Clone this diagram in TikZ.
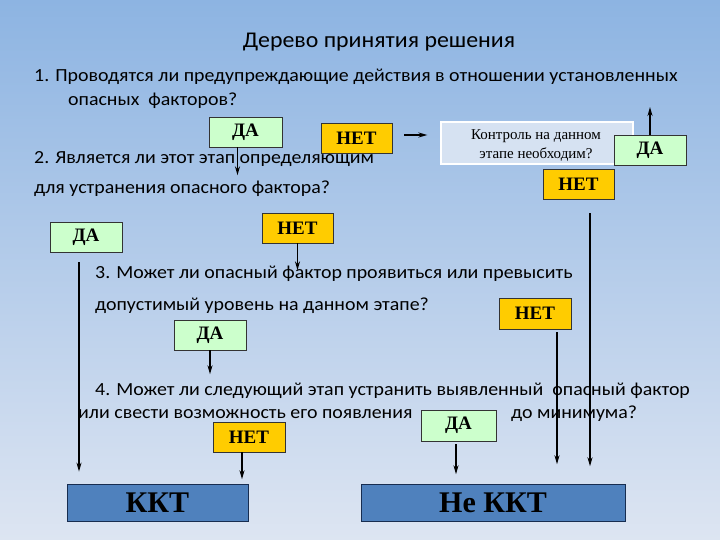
\documentclass[tikz,border=0pt]{standalone}
\usepackage{fontspec}
\setmainfont{Carlito}[FakeStretch=1.075]
\newfontfamily\ttlfont{Carlito}[FakeStretch=1.06]
\newfontfamily\tnr{Liberation Serif}
\usetikzlibrary{arrows.meta,calc}
\definecolor{bgtop}{RGB}{141,180,226}
\definecolor{bgbot}{RGB}{221,229,242}
\definecolor{dagreen}{RGB}{204,255,204}
\definecolor{netor}{RGB}{255,204,0}
\definecolor{kktblue}{RGB}{79,129,189}
\definecolor{kktline}{RGB}{23,45,80}
\definecolor{ctrlfill}{RGB}{214,226,242}
\tikzset{
  txt/.style={anchor=mid west, inner sep=0pt, font=\fontsize{18.5}{22}\selectfont},
  ttl/.style={anchor=mid, inner sep=0pt, font=\ttlfont\fontsize{22.5}{26}\selectfont},
  yesbox/.style={draw=black!80, line width=0.6pt, fill=dagreen, inner sep=0pt,
    font=\tnr\bfseries\fontsize{19}{21}\selectfont},
  nobox/.style={draw=black!80, line width=0.6pt, fill=netor, inner sep=0pt,
    font=\tnr\bfseries\fontsize{19}{21}\selectfont},
  endbox/.style={draw=kktline, line width=0.8pt, fill=kktblue, inner sep=0pt,
    font=\tnr\bfseries\fontsize{30}{32}\selectfont},
  arr/.style={line width=1.6pt, -{Stealth[length=9pt,width=5pt]}}
}
\begin{document}
\begin{tikzpicture}[x=1pt,y=-1pt]
\shade[top color=bgtop, bottom color=bgbot] (0,0) rectangle (720,540);
\useasboundingbox (0,0) rectangle (720,540);

% texts
\node[ttl] (title) at (379,45) {Дерево принятия решения};
\node[txt] (q1a) at (34,79) {1. Проводятся ли предупреждающие действия в отношении установленных};
\node[txt] (q1b) at (68,103) {опасных\ \ факторов?};
\node[txt] (q2a) at (34,161) {2. Является ли этот этап определяющим};
\node[txt] (q2b) at (34,191) {для устранения опасного фактора?};
\node[txt] (q3a) at (95,276) {3. Может ли опасный фактор проявиться или превысить};
\node[txt] (q3b) at (95,308) {допустимый уровень на данном этапе?};
\node[txt] (q4a) at (95,393) {4. Может ли следующий этап устранить выявленный\ \ опасный фактор};
\node[txt] (q4b) at (78,416) {или свести возможность его появления};
\node[txt] (q4c) at (511,416) {до минимума?};

% boxes
\node[yesbox, minimum width=73pt, minimum height=30pt] (da1) at (245.5,132) {ДА};
\node[nobox, minimum width=71pt, minimum height=30pt] (net1) at (356.5,138) {НЕТ};
\node[draw=white, line width=1.2pt, fill=ctrlfill, minimum width=192pt, minimum height=42pt,
  inner sep=0pt] (ctrl) at (537,143) {};
\node[inner sep=0pt, align=center, font=\tnr\fontsize{15}{19}\selectfont] (ctrltxt)
  at ($(ctrl.center)+(-1,3)$) {Контроль на данном\\этапе необходим?};
\node[yesbox, minimum width=72pt, minimum height=30pt] (da2) at (650,150) {ДА};
\node[nobox, minimum width=71pt, minimum height=30pt] (net2) at (578.5,184) {НЕТ};
\node[yesbox, minimum width=72pt, minimum height=30pt] (da3) at (86,237) {ДА};
\node[nobox, minimum width=71pt, minimum height=30pt] (net3) at (297.5,228) {НЕТ};
\node[nobox, minimum width=72pt, minimum height=31pt] (net4) at (535,313.5) {НЕТ};
\node[yesbox, minimum width=72pt, minimum height=30pt] (da4) at (210,335) {ДА};
\node[yesbox, minimum width=75pt, minimum height=31pt] (da5) at (458.5,425.5) {ДА};
\node[nobox, minimum width=72pt, minimum height=30pt] (net5) at (249,437) {НЕТ};
\node[endbox, minimum width=181pt, minimum height=37pt] (kkt) at (157.5,502.5) {ККТ};
\node[endbox, minimum width=264pt, minimum height=37pt] (nekkt) at (493,502.5) {Не ККТ};

% free end
\coordinate (upend) at (650,107);

% connectors
\draw[arr] ($(net1.east)+(12,-3)$) -- ($(ctrl.west)+(-13,-8)$);
\draw[arr] (da2.north) -- (upend);
\draw[arr] ($(da1.south)+(-8,0)$) -- ++(0,28);
\draw[arr] (net3.south) -- ++(0,27);
\draw[arr] ($(da3.south)+(-7,10)$) -- ($(kkt.north)+(-78.5,-12)$);
\draw[arr] ($(net2.south)+(11.5,14)$) -- ++(0,253);
\draw[arr] ($(net4.south)+(22,3)$) -- ++(0,132);
\draw[arr] (da4.south) -- ++(0,24);
\draw[arr] ($(da5.south)+(-2.5,3)$) -- ++(0,30);
\draw[arr] ($(net5.south)+(-7,0)$) -- ++(0,27);
\end{tikzpicture}
\end{document}
